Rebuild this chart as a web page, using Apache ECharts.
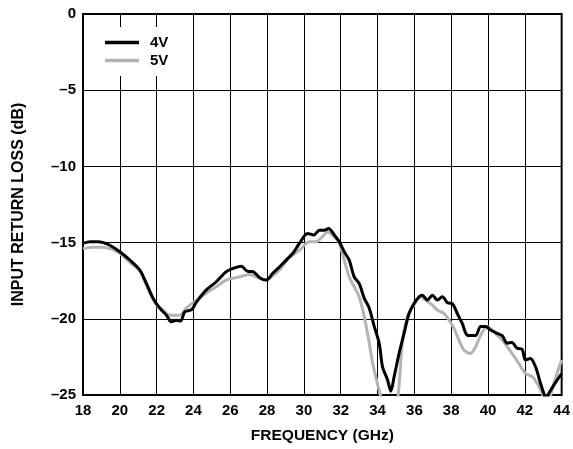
<!DOCTYPE html>
<html>
<head>
<meta charset="utf-8">
<script src="https://cdn.jsdelivr.net/npm/echarts@6/dist/echarts.min.js"></script>
<style>
html,body{margin:0;padding:0;background:#fff;}
#chart{width:573px;height:449px;}
</style>
</head>
<body>
<div id="chart"></div>
<script>
// ---- data ----
var seriesNames = ['4V', '5V'];
var freq4V = [18.0,18.4,18.8,19.1,19.46,20.0,20.55,21.09,21.45,21.81,22.17,22.53,22.8,23.07,23.3,23.53,23.9,24.16,24.7,25.24,25.78,26.14,26.6,26.96,27.2,27.6,27.95,28.3,28.67,29.03,29.4,29.75,30.2,30.54,30.84,31.1,31.34,31.65,31.92,32.19,32.46,32.73,33.0,33.28,33.55,33.82,34.09,34.27,34.54,34.72,34.9,35.17,35.44,35.71,35.98,36.26,36.43,36.7,36.98,37.25,37.52,37.8,38.06,38.33,38.6,38.87,39.15,39.33,39.6,39.87,40.14,40.5,40.77,41.04,41.3,41.58,41.85,42.03,42.3,42.58,42.85,43.03,43.15,43.3,43.6,44.0];
var loss4V = [-15.05,-14.95,-14.95,-15.0,-15.17,-15.6,-16.15,-16.8,-17.7,-18.66,-19.3,-19.76,-20.2,-20.1,-20.15,-19.54,-19.4,-18.9,-18.1,-17.57,-16.9,-16.7,-16.55,-16.9,-16.9,-17.3,-17.46,-17.03,-16.6,-16.15,-15.7,-15.06,-14.4,-14.5,-14.19,-14.19,-14.08,-14.5,-14.95,-15.6,-16.15,-17.25,-17.68,-18.66,-19.3,-20.5,-21.6,-23.15,-24.0,-24.75,-23.8,-22.27,-20.96,-19.65,-19.0,-18.55,-18.45,-18.77,-18.45,-18.77,-18.55,-18.95,-19.0,-19.65,-20.3,-21.07,-21.1,-21.1,-20.5,-20.5,-20.74,-20.96,-21.1,-21.6,-21.55,-21.94,-22.0,-22.7,-22.6,-23.15,-24.23,-24.9,-25.3,-24.9,-24.3,-23.6];
var freq5V = [18.0,18.5,19.0,19.46,20.0,20.55,21.1,21.63,21.99,22.35,22.7,23.25,23.6,24.16,24.7,25.24,25.78,26.5,27.05,27.6,27.95,28.3,28.67,29.2,29.75,30.3,30.66,31.0,31.29,31.65,31.92,32.19,32.46,32.73,33.0,33.28,33.55,33.73,33.94,34.13,34.5,34.9,35.12,35.35,35.62,35.98,36.34,36.6,36.98,37.25,37.6,37.88,38.15,38.42,38.69,39.05,39.33,39.6,39.96,40.23,40.5,40.77,41.04,41.3,41.67,42.03,42.4,42.67,42.94,43.2,43.48,43.75,44.0];
var loss5V = [-15.4,-15.3,-15.3,-15.4,-15.7,-16.3,-16.9,-18.3,-19.1,-19.43,-19.76,-19.76,-19.3,-18.8,-18.3,-17.9,-17.46,-17.25,-17.1,-17.35,-17.46,-17.2,-16.8,-16.0,-15.5,-14.95,-14.95,-14.62,-14.3,-14.62,-15.06,-16.15,-17.25,-17.9,-18.55,-19.87,-21.6,-22.9,-24.0,-24.9,-26.5,-26.2,-25.0,-21.5,-19.87,-19.1,-18.55,-18.77,-19.1,-19.43,-19.65,-20.08,-20.63,-21.4,-22.05,-22.27,-21.83,-21.07,-20.52,-20.74,-21.07,-21.4,-21.83,-22.27,-22.92,-23.58,-23.8,-24.23,-24.9,-25.8,-24.67,-23.58,-22.7];
var xTickLabels = ['18','20','22','24','26','28','30','32','34','36','38','40','42','44'];
var yTickLabels = ['–25','–20','–15','–10','–5','0'];
var xTitle = 'FREQUENCY (GHz)';
var yTitle = 'INPUT RETURN LOSS (dB)';

function pairs(xs, ys) { return xs.map(function (x, i) { return [x, ys[i]]; }); }

var FONT = 'Liberation Sans, Arial, Helvetica, sans-serif';
var chart = echarts.init(document.getElementById('chart'), null, {renderer: 'canvas'});
chart.setOption({
  animation: false,
  backgroundColor: '#fff',
  grid: {left: 83, right: 10, top: 14, bottom: 54, show: true, borderColor: '#000', borderWidth: 2, backgroundColor: 'transparent'},
  legend: {
    orient: 'vertical', left: 100, top: 27,
    padding: [8, 8, 8, 5],
    backgroundColor: '#fff',
    icon: 'rect',
    itemWidth: 34, itemHeight: 3.5, itemGap: 3,
    textStyle: {fontFamily: FONT, fontWeight: 'bold', fontSize: 15, color: '#000', padding: [0, 0, 0, 6]},
    data: [seriesNames[0], seriesNames[1]],
    z: 10
  },
  xAxis: {
    type: 'value', min: 18, max: 44, interval: 2,
    name: xTitle, nameLocation: 'middle', nameGap: 33,
    nameTextStyle: {fontFamily: FONT, fontWeight: 'bold', fontSize: 15.5, color: '#000'},
    axisLine: {show: false}, axisTick: {show: false},
    axisLabel: {fontFamily: FONT, fontWeight: 'bold', fontSize: 15, color: '#000', margin: 8,
      formatter: function (v) { return xTickLabels[Math.round((v - 18) / 2)]; }},
    splitLine: {show: true, lineStyle: {color: '#000', width: 1}}
  },
  yAxis: {
    type: 'value', min: -25, max: 0, interval: 5,
    name: yTitle, nameLocation: 'middle', nameGap: 56, nameRotate: 90,
    nameTextStyle: {fontFamily: FONT, fontWeight: 'bold', fontSize: 16, color: '#000'},
    axisLine: {show: false}, axisTick: {show: false},
    axisLabel: {fontFamily: FONT, fontWeight: 'bold', fontSize: 15, color: '#000', margin: 7,
      formatter: function (v) { return yTickLabels[Math.round((v + 25) / 5)]; }},
    splitLine: {show: true, lineStyle: {color: '#000', width: 1}}
  },
  series: [
    {name: seriesNames[1], type: 'line', data: pairs(freq5V, loss5V), showSymbol: false, symbol: 'none', smooth: 0.3, clip: true,
     lineStyle: {color: '#b3b3b3', width: 3}, itemStyle: {color: '#b3b3b3'}, z: 2},
    {name: seriesNames[0], type: 'line', data: pairs(freq4V, loss4V), showSymbol: false, symbol: 'none', smooth: 0.3, clip: true,
     lineStyle: {color: '#000', width: 3}, itemStyle: {color: '#000'}, z: 3}
  ]
});
</script>
</body>
</html>
